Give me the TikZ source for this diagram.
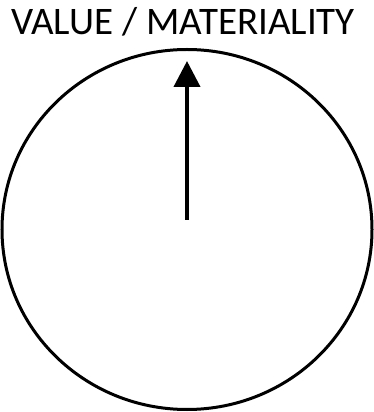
\documentclass[tikz,border=0pt]{standalone}
\usepackage{fontspec}
\setmainfont{Carlito}
\usepackage{tikz}
\usetikzlibrary {arrows.meta}

\begin{document}
\begin{tikzpicture}[x=1pt, y=1pt,
    rim/.style={
        draw=black,
        line width=3pt     % Thick outline of the ellipse
    },
    pointer/.style={
        line width=4pt,
        -{Triangle[length=26pt, width=26pt]}  % Solid head at the top
    }
]
\useasboundingbox (0,0) rectangle (374,412);
\draw [rim] (187,182.5) ellipse [x radius=185, y radius=180];
\coordinate (centre) at (187,192);
\coordinate (tip) at (187,351);
\draw [pointer] (centre) -- (tip);
\node [anchor=base, inner sep=0pt, font=\fontsize{39}{44}\selectfont] (title) at (183,377) {VALUE / MATERIALITY};
\end{tikzpicture}
\end{document}
